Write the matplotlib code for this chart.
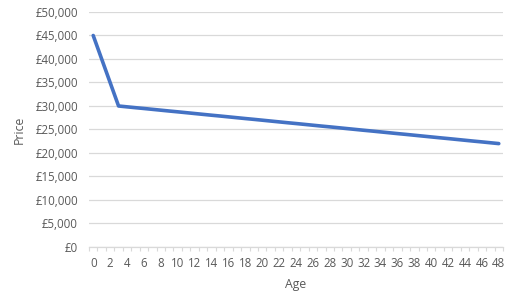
import numpy as np
import matplotlib.pyplot as plt
from matplotlib.ticker import FuncFormatter, MultipleLocator

plt.rcParams['font.family'] = ['Open Sans', 'DejaVu Sans']

#############################################
## Data
#############################################
age = list(range(0, 49))
price = [45000, 40000, 35000,
         30000, 29820, 29640, 29470, 29290, 29110, 28930, 28760, 28580, 28400,
         28220, 28040, 27870, 27690, 27510, 27330, 27160, 26980, 26800, 26620,
         26440, 26270, 26090, 25910, 25730, 25560, 25380, 25200, 25020, 24840,
         24670, 24490, 24310, 24130, 23960, 23780, 23600, 23420, 23240, 23070,
         22890, 22710, 22530, 22360, 22180, 22000]
x_ticks = list(range(0, 49, 2))
y_ticks = list(range(0, 50001, 5000))

#############################################
## Figure
#############################################
grey_text = '#595959'
grid_col = '#d9d9d9'

fig = plt.figure(figsize=(5.15, 3.0), dpi=100)
ax = fig.add_axes([0.1728, 0.1767, 0.8039, 0.7833])

ax.plot(age, price, color='#4472C4', lw=2.6, solid_capstyle='round', zorder=3)

# Options
ax.set_xlim(-0.5, 48.5)
ax.set_ylim(0, 50000)
ax.set_yticks(y_ticks)
ax.yaxis.set_major_formatter(FuncFormatter(lambda v, p: '£{:,.0f}'.format(v)))
ax.set_xticks(x_ticks)
ax.xaxis.set_minor_locator(MultipleLocator(1, offset=0.5))
ax.grid(axis='y', color=grid_col, lw=0.9)
ax.set_axisbelow(True)

for s in ['top', 'right', 'left']:
    ax.spines[s].set_visible(False)
ax.spines['bottom'].set_color(grid_col)
ax.spines['bottom'].set_linewidth(0.9)

ax.tick_params(axis='y', length=0, pad=8, labelsize=8.3, labelcolor=grey_text)
ax.tick_params(axis='x', which='major', length=0, pad=7, labelsize=8.3, labelcolor=grey_text)
ax.tick_params(axis='x', which='minor', length=3, width=0.8, color=grid_col, direction='out')

ax.set_xlabel('Age', fontsize=8.8, color=grey_text, labelpad=6)
ax.set_ylabel('Price', fontsize=8.8, color=grey_text, labelpad=7)

plt.savefig('out.png', dpi=100)
